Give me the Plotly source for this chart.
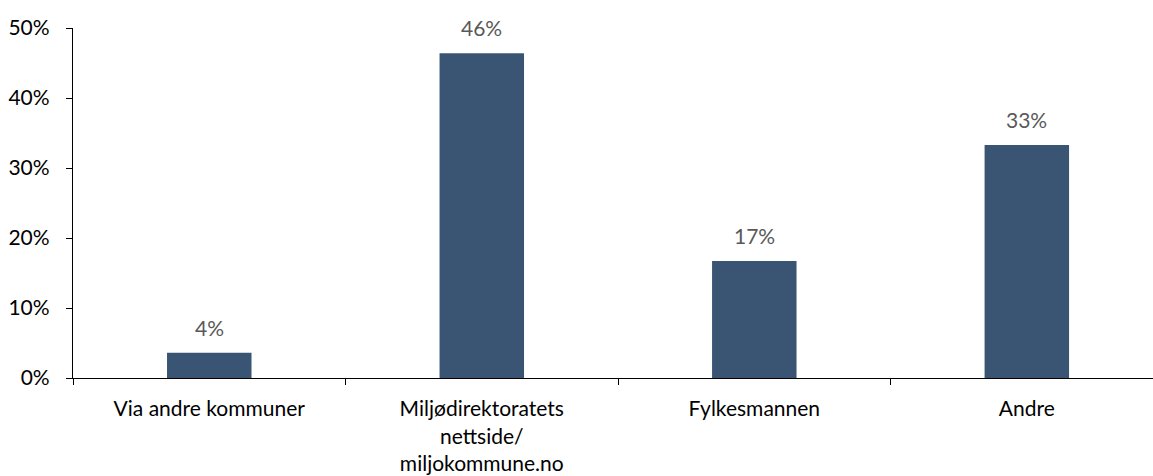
import plotly.graph_objects as go

categories = ["Via andre kommuner", "Miljødirektoratets<br>nettside/<br>miljokommune.no",
              "Fylkesmannen", "Andre"]
shares = [0.036, 0.464, 0.167, 0.333]
y_ticks = [0, 0.1, 0.2, 0.3, 0.4, 0.5]
y_tick_labels = ["0%", "10%", "20%", "30%", "40%", "50%"]

FONT = "Lato, 'Open Sans', sans-serif"
FONT_SIZE = 21
BAR_COLOR = "#3a5573"

fig = go.Figure()
fig.add_trace(go.Bar(
    x=categories,
    y=shares,
    marker=dict(color=BAR_COLOR, line=dict(width=0)),
    width=0.31,
    hoverinfo="skip",
))

# value labels above each bar, rounded to whole percent
for cat, v in zip(categories, shares):
    fig.add_annotation(
        x=cat, y=v, xref="x", yref="y",
        text=f"{round(v * 100):d}%",
        showarrow=False, yanchor="bottom", yshift=11,
        font=dict(family=FONT, size=FONT_SIZE, color="#595959"),
    )

fig.update_layout(
    width=1153, height=476,
    margin=dict(l=73, r=0, t=28, b=98),
    paper_bgcolor="white", plot_bgcolor="white",
    showlegend=False,
    font=dict(family=FONT, size=FONT_SIZE, color="black"),
)
fig.update_xaxes(
    type="category",
    range=[-0.5, 3.463],
    tickson="boundaries", ticks="outside", ticklen=6, tickwidth=1.3, tickcolor="black",
    showline=True, linecolor="black", linewidth=1.3,
    showgrid=False, zeroline=False,
    tickfont=dict(family=FONT, size=FONT_SIZE, color="black"),
    ticklabelstandoff=12,
)
fig.update_yaxes(
    range=[0, 0.5],
    tickmode="array", tickvals=y_ticks, ticktext=y_tick_labels,
    ticks="outside", ticklen=6, tickwidth=1.3, tickcolor="black",
    showline=True, linecolor="black", linewidth=1.3,
    showgrid=False, zeroline=False,
    tickfont=dict(family=FONT, size=FONT_SIZE, color="black"),
    ticklabelstandoff=12,
)

fig.write_html("out.html")
